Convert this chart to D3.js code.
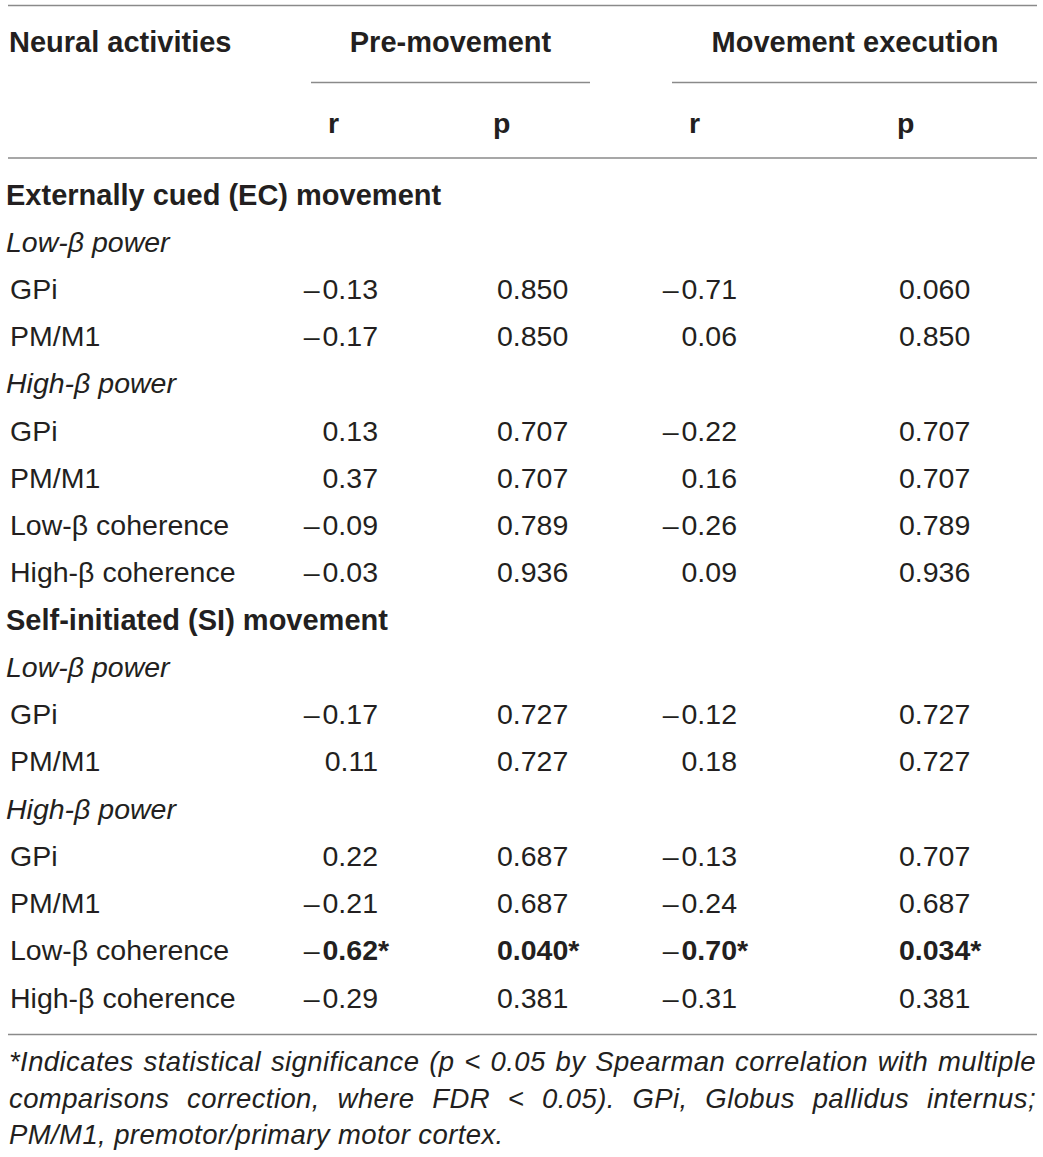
<html lang="en">
<head>
  <meta charset="UTF-8">
  <title>Neural activities correlation table</title>
  <script src="https://cdn.jsdelivr.net/npm/d3@7"></script>
  <style>
    body { margin: 0; background: #fff; }
    text { font-family: "Liberation Sans", Arial, Helvetica, sans-serif; fill: #231f20; }
  </style>
</head>
<body>
<div id="table"></div>
<script>
// table content
const columnLabel = "Neural activities";
const periods = ["Pre-movement", "Movement execution"];
const statLabels = ["r", "p"];

const rowLabels = [
  "Externally cued (EC) movement", "Low-β power", "GPi", "PM/M1", "High-β power", "GPi", "PM/M1", "Low-β coherence", "High-β coherence",
  "Self-initiated (SI) movement", "Low-β power", "GPi", "PM/M1", "High-β power", "GPi", "PM/M1", "Low-β coherence", "High-β coherence"
];
const rowKinds = [
  "group", "sub", "item", "item", "sub", "item", "item", "item", "item",
  "group", "sub", "item", "item", "sub", "item", "item", "item", "item"
];
const preR  = [null, null, -0.13, -0.17, null, 0.13, 0.37, -0.09, -0.03, null, null, -0.17, 0.11, null, 0.22, -0.21, -0.62, -0.29];
const preP  = [null, null, 0.850, 0.850, null, 0.707, 0.707, 0.789, 0.936, null, null, 0.727, 0.727, null, 0.687, 0.687, 0.040, 0.381];
const execR = [null, null, -0.71, 0.06, null, -0.22, 0.16, -0.26, 0.09, null, null, -0.12, 0.18, null, -0.13, -0.24, -0.70, -0.31];
const execP = [null, null, 0.060, 0.850, null, 0.707, 0.707, 0.789, 0.936, null, null, 0.727, 0.727, null, 0.707, 0.687, 0.034, 0.381];
const significant = [false, false, false, false, false, false, false, false, false, false, false, false, false, false, false, false, true, false];

const footnoteLines = [
  "*Indicates statistical significance (p < 0.05 by Spearman correlation with multiple",
  "comparisons correction, where FDR < 0.05). GPi, Globus pallidus internus;",
  "PM/M1, premotor/primary motor cortex."
];

const W = 1043, H = 1157;
const fs = 28.5;
const ruleColor = "#8a8a8a";

const svg = d3.select("#table")
  .append("svg")
  .attr("width", W)
  .attr("height", H);

// rows are placed on a point scale (text baselines)
const y = d3.scalePoint()
  .domain(d3.range(rowLabels.length))
  .range([204.5, 1007.5]);

// value columns: r columns are right aligned, p columns left aligned
const cols = [
  { key: "preR", values: preR, type: "r" },
  { key: "preP", values: preP, type: "p" },
  { key: "execR", values: execR, type: "r" },
  { key: "execP", values: execP, type: "p" }
];
const x = d3.scaleOrdinal()
  .domain(cols.map(c => c.key))
  .range([378, 497, 737, 899]);

const fmt2 = d3.format(".2f"), fmt3 = d3.format(".3f");

// rules
const rules = [
  [8, 1037, 5.5], [311, 590, 82.5], [672, 1037, 82.5], [8, 1037, 158], [8, 1037, 1034.5]
];
svg.append("g")
  .selectAll("line")
  .data(rules)
  .enter()
  .append("line")
    .attr("x1", d => d[0])
    .attr("x2", d => d[1])
    .attr("y1", d => d[2])
    .attr("y2", d => d[2])
    .style("stroke", ruleColor)
    .style("stroke-width", 1.5);

// header
const head = svg.append("g").style("font-weight", "bold").style("font-size", "29px");
head.append("text").attr("x", 9).attr("y", 52).text(columnLabel);
head.selectAll(".period")
  .data(periods)
  .enter()
  .append("text")
    .attr("class", "period")
    .attr("x", (d, i) => i === 0 ? 450.5 : 855)
    .attr("y", 52)
    .attr("text-anchor", "middle")
    .text(d => d);
const statX = [328, 493, 689, 897];
head.selectAll(".stat")
  .data(statX)
  .enter()
  .append("text")
    .attr("class", "stat")
    .attr("x", d => d)
    .attr("y", 133)
    .style("font-size", fs + "px")
    .text((d, i) => statLabels[i % 2]);

// row labels
svg.append("g")
  .selectAll("text")
  .data(rowLabels)
  .enter()
  .append("text")
    .attr("x", (d, i) => rowKinds[i] === "item" ? 10 : 6)
    .attr("y", (d, i) => y(i))
    .style("font-size", (d, i) => rowKinds[i] === "group" ? "29px" : fs + "px")
    .style("font-weight", (d, i) => rowKinds[i] === "group" ? "bold" : "normal")
    .style("font-style", (d, i) => rowKinds[i] === "sub" ? "italic" : "normal")
    .text(d => d);

// values
cols.forEach(c => {
  const g = svg.append("g").style("font-size", fs + "px");
  c.values.forEach((v, i) => {
    if (v === null) return;
    const bold = significant[i];
    const t = g.append("text")
      .attr("x", x(c.key))
      .attr("y", y(i))
      .attr("text-anchor", c.type === "r" ? "end" : "start");
    if (c.type === "r") {
      if (v < 0) t.append("tspan").text("\u2013");
      t.append("tspan")
        .attr("dx", v < 0 ? 3 : 0)
        .style("font-weight", bold ? "bold" : "normal")
        .text(fmt2(Math.abs(v)));
      if (bold) {
        g.append("text")
          .attr("x", x(c.key))
          .attr("y", y(i))
          .style("font-weight", "bold")
          .text("*");
      }
    } else {
      t.style("font-weight", bold ? "bold" : "normal").text(fmt3(v) + (bold ? "*" : ""));
    }
  });
});

// footnote, justified except the last line
const foot = svg.append("g")
  .style("font-size", "27.5px")
  .style("letter-spacing", "0.4px")
  .style("font-style", "italic");
const footY = [1071, 1107.5, 1144];
const left = 9, right = 1036;
footnoteLines.forEach((line, i) => {
  const t = foot.append("text")
    .attr("x", left)
    .attr("y", footY[i])
    .text(line);
  if (i < footnoteLines.length - 1) {
    const natural = t.node().getComputedTextLength();
    const gaps = line.split(" ").length - 1;
    t.attr("word-spacing", ((right - left - natural) / gaps).toFixed(2));
  }
});
</script>
</body>
</html>
